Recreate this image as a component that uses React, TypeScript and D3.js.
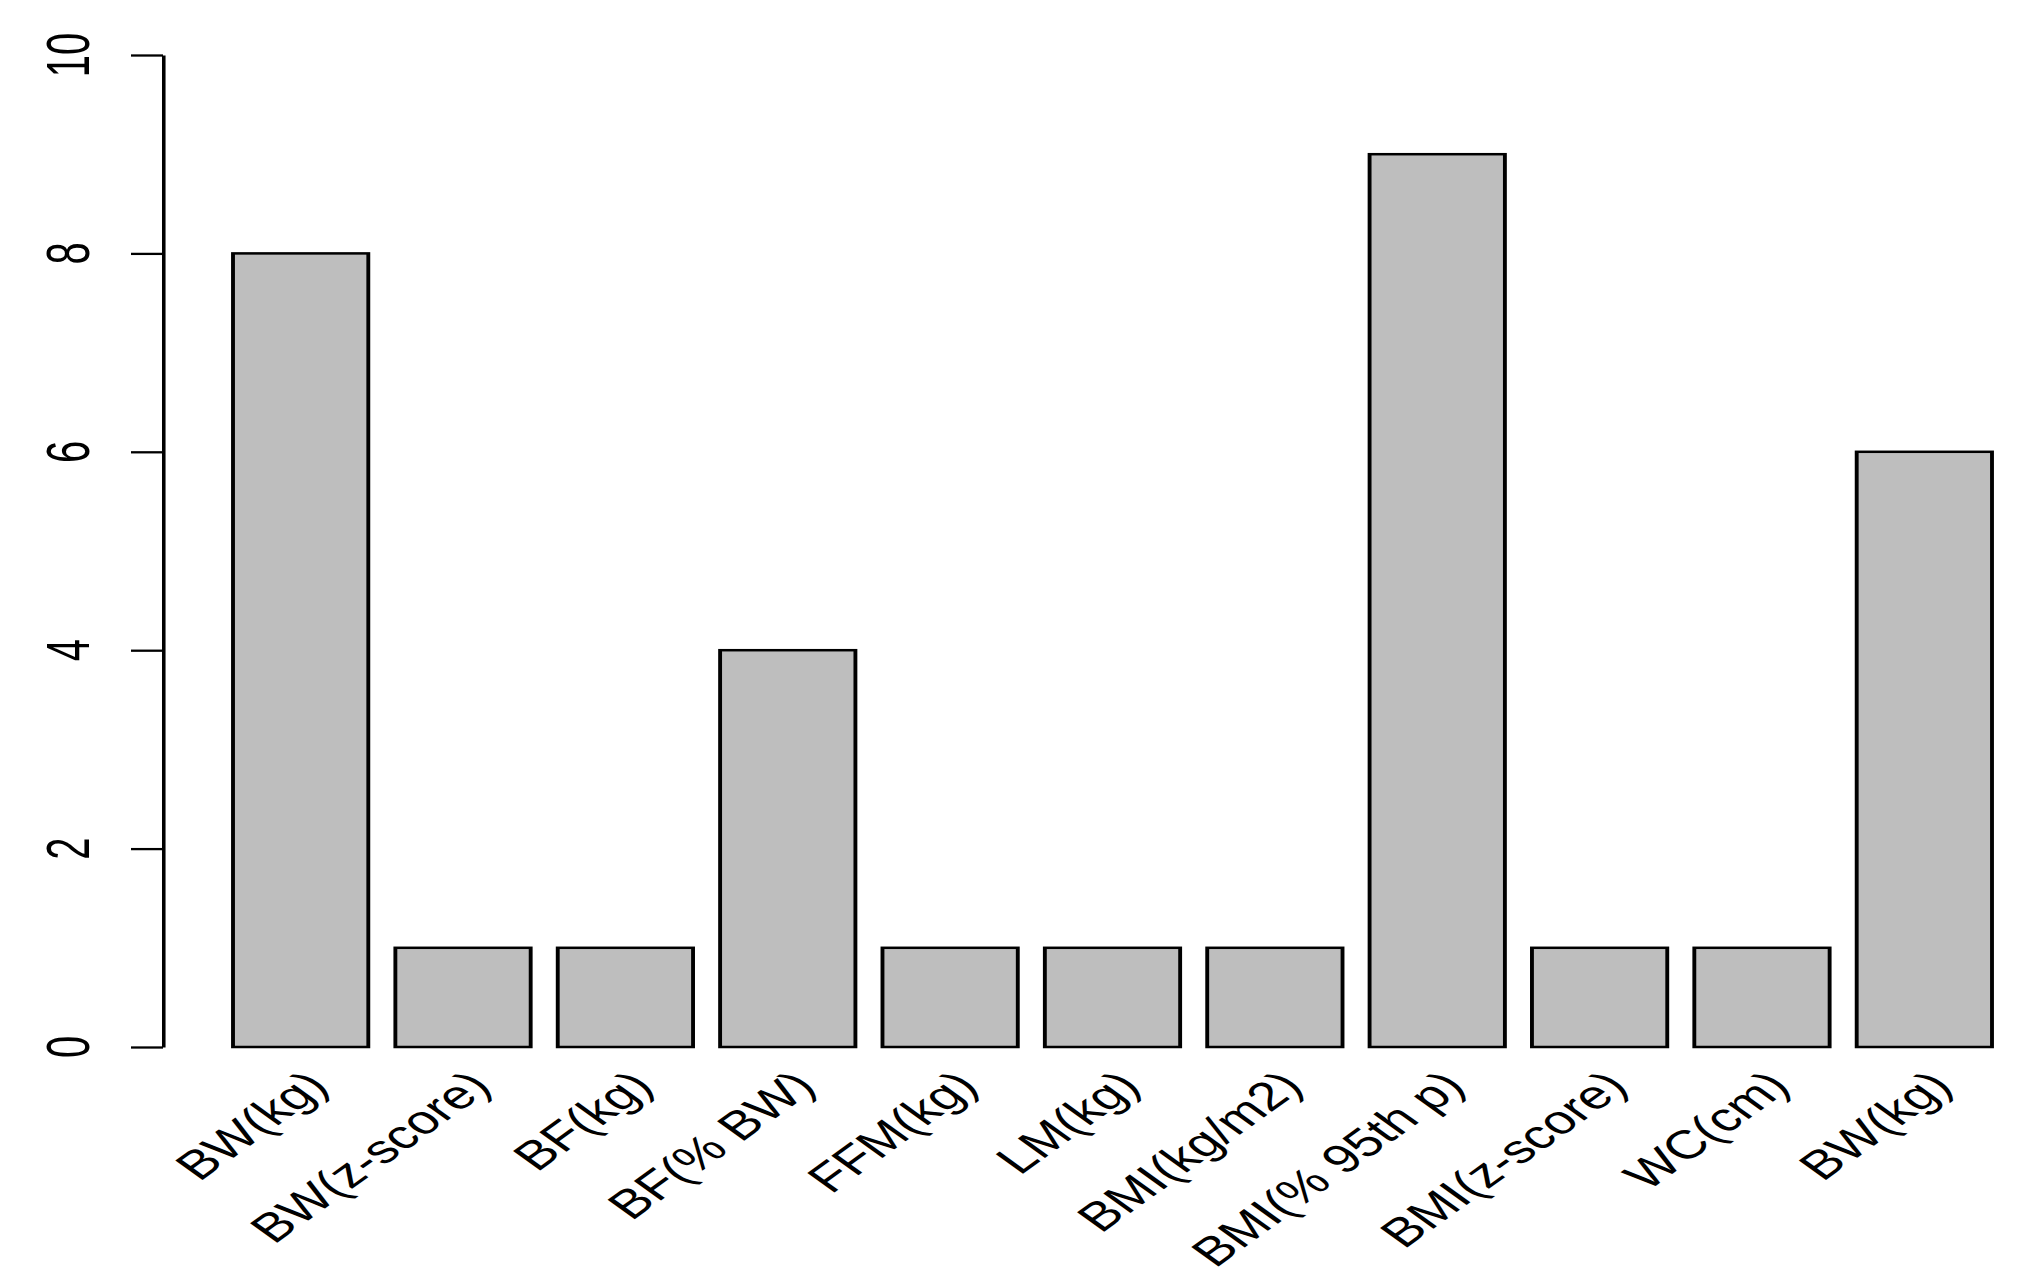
import React, { useRef, useEffect } from 'react';
import * as d3 from 'd3';

// Bar labels (the last one repeats the first in the original figure)
const categories = [
  'BW(kg)',
  'BW(z-score)',
  'BF(kg)',
  'BF(% BW)',
  'FFM(kg)',
  'LM(kg)',
  'BMI(kg/m2)',
  'BMI(% 95th p)',
  'BMI(z-score)',
  'WC(cm)',
  'BW(kg)',
];
const counts = [8, 1, 1, 4, 1, 1, 1, 9, 1, 1, 6];
const yTicks = [0, 2, 4, 6, 8, 10];

const WIDTH = 2019;
const HEIGHT = 1286;
// the source figure is stretched horizontally, so draw it unstretched and scale x
const STRETCH = 1.55;
const LABEL_SQUEEZE = 0.9;
const FONT = '"Liberation Sans", Arial, sans-serif';

const App: React.FC = () => {
  const svgRef = useRef<SVGSVGElement>(null);

  useEffect(() => {
    if (!svgRef.current) return;
    const svg = d3.select(svgRef.current);
    svg.selectAll('*').remove();

    svg.append('rect').attr('width', WIDTH).attr('height', HEIGHT).attr('fill', '#ffffff');

    const g = svg.append('g').attr('transform', `scale(${STRETCH},1)`);

    const axisX = 163 / STRETCH;

    const xScale = d3.scaleBand<number>()
      .domain(d3.range(categories.length))
      .range([233 / STRETCH, 1992 / STRETCH])
      .paddingInner(1 / 6)
      .paddingOuter(0);

    const yScale = d3.scaleLinear()
      .domain([0, 10])
      .range([1047, 55]);

    // bars
    g.selectAll('.bar')
      .data(counts)
      .enter()
      .append('rect')
      .attr('class', 'bar')
      .attr('x', (d, i) => xScale(i) as number)
      .attr('y', d => yScale(d))
      .attr('width', xScale.bandwidth())
      .attr('height', d => yScale(0) - yScale(d))
      .attr('fill', '#bebebe')
      .attr('stroke', '#000000')
      .attr('stroke-width', 2.5);

    // y axis
    const yAxis = g.append('g')
      .attr('transform', `translate(${axisX},0)`)
      .call(
        d3.axisLeft(yScale)
          .tickValues(yTicks)
          .tickSize(32 / STRETCH)
          .tickSizeOuter(0)
          .tickFormat(() => '')
      );
    yAxis.selectAll('path, line')
      .attr('stroke', '#000000')
      .attr('stroke-width', 2.3);

    // y tick labels, rotated to read upwards
    g.selectAll('.ylab')
      .data(yTicks)
      .enter()
      .append('text')
      .attr('class', 'ylab')
      .attr('transform', d => `translate(${89 / STRETCH},${yScale(d)}) rotate(-90)`)
      .attr('text-anchor', 'middle')
      .style('font-family', FONT)
      .style('font-size', '40px')
      .style('fill', '#000000')
      .text(d => d);

    // x labels at 45 degrees
    g.selectAll('.xlab')
      .data(categories)
      .enter()
      .append('text')
      .attr('class', 'xlab')
      .attr('transform', (d, i) => {
        const cx = (xScale(i) as number) + xScale.bandwidth() / 2 + 30 / STRETCH;
        return `translate(${cx},1088) scale(${LABEL_SQUEEZE},1) rotate(-45)`;
      })
      .attr('text-anchor', 'end')
      .style('font-family', FONT)
      .style('font-size', '40px')
      .style('fill', '#000000')
      .text(d => d);
  }, []);

  return (
    <svg
      ref={svgRef}
      width={WIDTH}
      height={HEIGHT}
      style={{ position: 'absolute', left: 0, top: 0 }}
    ></svg>
  );
};

export default App;
